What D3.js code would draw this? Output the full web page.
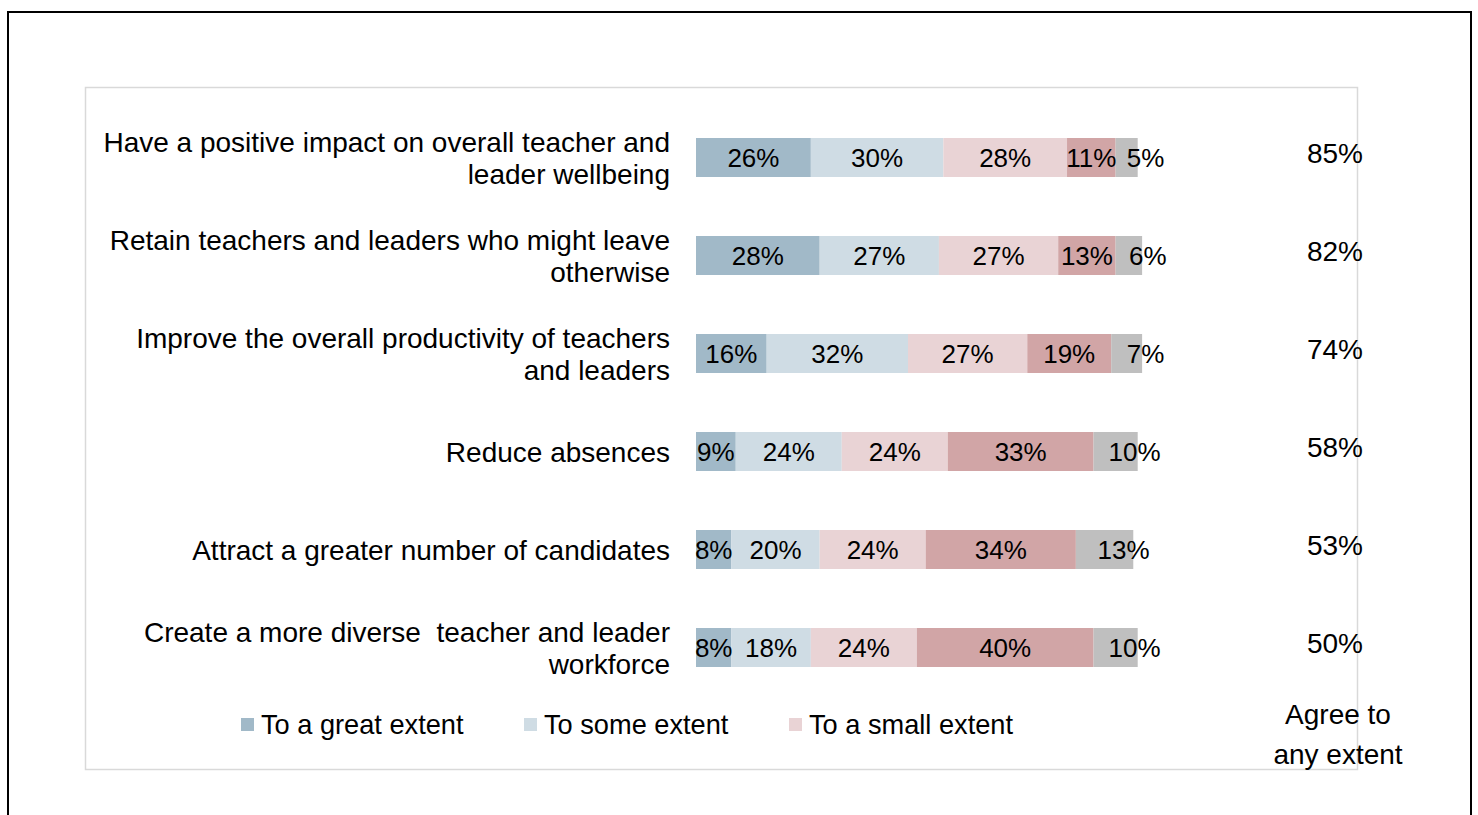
<!DOCTYPE html>
<html>
<head>
<meta charset="utf-8">
<script src="https://cdn.jsdelivr.net/npm/d3@7"></script>
<style>
  html, body { margin: 0; padding: 0; background: #fff; }
  svg { display: block; }
  text { font-family: Arial, "Liberation Sans", sans-serif; fill: #000; }
</style>
</head>
<body>
<svg id="chart" width="1478" height="815"></svg>
<script>
// ---- data ----
const categories = [
  "Have a positive impact on overall teacher and\nleader wellbeing",
  "Retain teachers and leaders who might leave\notherwise",
  "Improve the overall productivity of teachers\nand leaders",
  "Reduce absences",
  "Attract a greater number of candidates",
  "Create a more diverse  teacher and leader\nworkforce"
];
const seriesNames = ["To a great extent", "To some extent", "To a small extent", "Not at all", "Don't know"];
const greatExtent = [26, 28, 16, 9, 8, 8];
const someExtent  = [30, 27, 32, 24, 20, 18];
const smallExtent = [28, 27, 27, 24, 24, 24];
const notAtAll    = [11, 13, 19, 33, 34, 40];
const dontKnow    = [5, 6, 7, 10, 13, 10];
const agreeAny    = [85, 82, 74, 58, 53, 50];
const agreeTitle  = ["Agree to", "any extent"];
const legendShown = 3;

const colors = ["#a1b9c8", "#cfdce4", "#e9d3d5", "#d1a5a6", "#bfbfbf"];
const seriesValues = [greatExtent, someExtent, smallExtent, notAtAll, dontKnow];

const svg = d3.select("#chart");

// frames
svg.append("rect").attr("x", 8).attr("y", 12).attr("width", 1463).attr("height", 900)
  .attr("fill", "none").attr("stroke", "#000").attr("stroke-width", 2);
svg.append("rect").attr("x", 85.5).attr("y", 87.5).attr("width", 1272).attr("height", 682)
  .attr("fill", "none").attr("stroke", "#d9d9d9").attr("stroke-width", 1.5);

const x = d3.scaleLinear().domain([0, 100]).range([696, 1137.7]);
const y = d3.scalePoint().domain(categories).range([157.5, 647.5]);
const barH = 39;

// stacked data
const rows = categories.map((c, i) => {
  const o = { cat: c };
  seriesNames.forEach((s, k) => o[s] = seriesValues[k][i]);
  return o;
});
const stack = d3.stack().keys(seriesNames)(rows);

const g = svg.append("g");
stack.forEach((layer, k) => {
  g.selectAll(null).data(layer).enter().append("rect")
    .attr("x", d => x(d[0]))
    .attr("y", d => y(d.data.cat) - barH / 2)
    .attr("width", d => x(d[1]) - x(d[0]))
    .attr("height", barH)
    .attr("fill", colors[k]);
});
stack.forEach((layer, k) => {
  g.selectAll(null).data(layer).enter().append("text")
    .attr("x", d => (x(d[0]) + x(d[1])) / 2 + (k === 4 ? 19 : 0))
    .attr("y", d => y(d.data.cat))
    .attr("dy", "0.36em")
    .attr("text-anchor", "middle")
    .style("font-size", "26px")
    .text(d => (d[1] - d[0]) + "%");
});

// category labels
categories.forEach(c => {
  const lines = c.split("\n");
  const lh = 32;
  const t = svg.append("text")
    .attr("text-anchor", "end")
    .attr("xml:space", "preserve")
    .style("white-space", "pre")
    .style("font-size", "28px");
  lines.forEach((ln, j) => {
    t.append("tspan")
      .attr("x", 670)
      .attr("y", y(c) + (j - (lines.length - 1) / 2) * lh)
      .attr("dy", "0.36em")
      .text(ln);
  });
});

// agree column
categories.forEach((c, i) => {
  svg.append("text")
    .attr("x", 1335)
    .attr("y", y(c) - 5)
    .attr("dy", "0.36em")
    .attr("text-anchor", "middle")
    .style("font-size", "28px")
    .text(agreeAny[i] + "%");
});
agreeTitle.forEach((t, j) => {
  svg.append("text")
    .attr("x", 1338)
    .attr("y", 714 + j * 40)
    .attr("dy", "0.36em")
    .attr("text-anchor", "middle")
    .style("font-size", "28px")
    .text(t);
});

// legend
const legendX = [241, 524, 789];
seriesNames.slice(0, legendShown).forEach((s, k) => {
  const lg = svg.append("g").attr("transform", `translate(${legendX[k]},718)`);
  lg.append("rect").attr("width", 13).attr("height", 13).attr("fill", colors[k]);
  lg.append("text").attr("x", 20).attr("y", 6.5).attr("dy", "0.36em")
    .style("font-size", "27.2px").text(s);
});
</script>
</body>
</html>
